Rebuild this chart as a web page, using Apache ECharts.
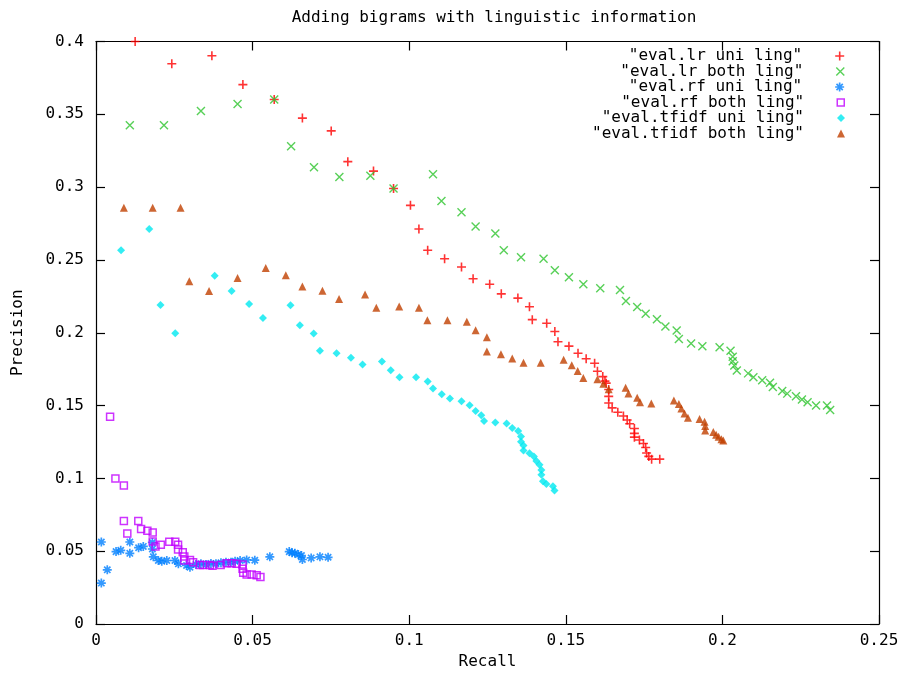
<!DOCTYPE html>
<html>
<head>
<meta charset="utf-8">
<script src="https://cdn.jsdelivr.net/npm/echarts@6/dist/echarts.min.js"></script>
<style>html,body{margin:0;padding:0;background:#fff}#c{width:909px;height:675px}</style>
</head>
<body>
<div id="c"></div>
<script>
var titleText = 'Adding bigrams with linguistic information';
var xName = 'Recall';
var yName = 'Precision';
var xTickLabels = ['0', '0.05', '0.1', '0.15', '0.2', '0.25'];
var yTickLabels = ['0', '0.05', '0.1', '0.15', '0.2', '0.25', '0.3', '0.35', '0.4'];
var seriesNames = ['"eval.lr uni ling"', '"eval.lr both ling"', '"eval.rf uni ling"', '"eval.rf both ling"', '"eval.tfidf uni ling"', '"eval.tfidf both ling"'];

var lrUni = [
[0.0125,0.400],[0.0242,0.3847],[0.0370,0.3902],[0.0469,0.3704],[0.0569,0.3602],[0.0659,0.3474],
[0.0751,0.3386],[0.0804,0.3175],[0.0886,0.3110],[0.0950,0.2991],[0.1004,0.2875],[0.1031,0.2712],
[0.1059,0.2567],[0.1113,0.2508],[0.1167,0.2451],[0.1204,0.2371],[0.1257,0.2333],[0.1294,0.2267],
[0.1347,0.2238],[0.1384,0.2179],[0.1393,0.2090],[0.1439,0.2065],[0.1465,0.2009],[0.1475,0.1938],
[0.1510,0.1908],[0.1539,0.1859],[0.1565,0.1821],[0.1592,0.1791],[0.1601,0.1736],[0.1618,0.1699],
[0.1625,0.1668],[0.1629,0.1654],[0.1637,0.1610],[0.1637,0.1563],[0.1637,0.1518],[0.1648,0.1484],
[0.1666,0.1454],[0.1684,0.1428],[0.1696,0.1401],[0.1704,0.1375],[0.1719,0.1343],[0.1719,0.1309],
[0.1719,0.1283],[0.1735,0.1264],[0.1748,0.1239],[0.1755,0.1212],[0.1758,0.1174],[0.1765,0.1151],
[0.1774,0.1132],[0.1800,0.1132]
];
var lrBoth = [
[0.0108,0.3425],[0.0217,0.3425],[0.0335,0.3522],[0.0452,0.3570],[0.0569,0.3602],[0.0623,0.3280],
[0.0696,0.3137],[0.0777,0.3069],[0.0876,0.3078],[0.0950,0.2991],[0.1076,0.3088],[0.1103,0.2905],
[0.1167,0.2828],[0.1212,0.2730],[0.1275,0.2681],[0.1302,0.2567],[0.1357,0.2519],[0.1429,0.2508],
[0.1465,0.2429],[0.1510,0.2381],[0.1556,0.2333],[0.1610,0.2305],[0.1673,0.2294],[0.1692,0.2218],
[0.1728,0.2177],[0.1755,0.2131],[0.1791,0.2092],[0.1818,0.2043],[0.1854,0.2015],[0.1861,0.1957],
[0.1900,0.1927],[0.1936,0.1908],[0.1991,0.1900],[0.2026,0.1877],[0.2033,0.1836],[0.2033,0.1804],
[0.2038,0.1775],[0.2046,0.1741],[0.2082,0.1721],[0.2099,0.1695],[0.2127,0.1673],[0.2152,0.1657],
[0.2161,0.1627],[0.2191,0.1600],[0.2207,0.1582],[0.2235,0.1564],[0.2254,0.1541],[0.2272,0.1523],
[0.2299,0.1500],[0.2334,0.1500],[0.2344,0.1469]
];
var rfUni = [
[0.0017,0.0563],[0.0036,0.0372],[0.0017,0.0281],[0.0064,0.0497],[0.0079,0.0506],[0.0108,0.0563],
[0.0108,0.0485],[0.0136,0.0524],[0.0151,0.0533],[0.0180,0.0560],[0.0180,0.0515],[0.0183,0.0461],
[0.0199,0.0436],[0.0210,0.0431],[0.0226,0.0436],[0.0252,0.0436],[0.0263,0.0413],[0.0289,0.0402],
[0.0300,0.0390],[0.0319,0.0409],[0.0335,0.0413],[0.0351,0.0409],[0.0367,0.0416],[0.0383,0.0413],
[0.0399,0.0420],[0.0415,0.0424],[0.0431,0.0424],[0.0444,0.0431],[0.0460,0.0436],[0.0481,0.0440],
[0.0507,0.0438],[0.0555,0.0461],[0.0617,0.0497],[0.0626,0.0490],[0.0635,0.0485],[0.0646,0.0478],
[0.0656,0.0470],[0.0659,0.0443],[0.0687,0.0454],[0.0715,0.0461],[0.0741,0.0458]
];
var rfBoth = [
[0.0045,0.1423],[0.0062,0.0999],[0.0089,0.0951],[0.0089,0.0708],[0.0135,0.0708],[0.0100,0.0622],
[0.0144,0.0652],[0.0164,0.0640],[0.0181,0.0628],[0.0181,0.0567],[0.0190,0.0533],[0.0207,0.0545],
[0.0234,0.0565],[0.0253,0.0565],[0.0262,0.0545],[0.0262,0.0511],[0.0277,0.0492],[0.0282,0.0463],
[0.0282,0.0436],[0.0300,0.0440],[0.0310,0.0424],[0.0332,0.0406],[0.0342,0.0406],[0.0364,0.0406],
[0.0372,0.0400],[0.0398,0.0406],[0.0417,0.0417],[0.0433,0.0417],[0.0449,0.0413],[0.0468,0.0409],
[0.0468,0.0379],[0.0470,0.0352],[0.0481,0.0340],[0.0497,0.0340],[0.0513,0.0334],[0.0525,0.0322]
];
var tfidfUni = [
[0.0080,0.2567],[0.0170,0.2712],[0.0206,0.2190],[0.0253,0.1997],[0.0379,0.2392],[0.0433,0.2286],
[0.0489,0.2198],[0.0533,0.2102],[0.0621,0.2188],[0.0651,0.2051],[0.0695,0.1995],[0.0715,0.1877],
[0.0768,0.1859],[0.0814,0.1829],[0.0851,0.1782],[0.0913,0.1802],[0.0941,0.1743],[0.0969,0.1695],
[0.1022,0.1695],[0.1059,0.1666],[0.1076,0.1617],[0.1104,0.1578],[0.1130,0.1549],[0.1167,0.1530],
[0.1193,0.1503],[0.1212,0.1462],[0.1230,0.1433],[0.1239,0.1394],[0.1275,0.1384],[0.1311,0.1377],
[0.1329,0.1346],[0.1348,0.1326],[0.1357,0.1287],[0.1357,0.1251],[0.1365,0.1226],[0.1365,0.1192],
[0.1384,0.1173],[0.1398,0.1151],[0.1406,0.1120],[0.1416,0.1093],[0.1422,0.1057],[0.1422,0.1025],
[0.1427,0.0980],[0.1438,0.0962],[0.1459,0.0946],[0.1464,0.0917]
];
var tfidfBoth = [
[0.0089,0.2858],[0.0181,0.2858],[0.0270,0.2858],[0.0298,0.2354],[0.0361,0.2286],[0.0452,0.2376],
[0.0542,0.2444],[0.0606,0.2395],[0.0659,0.2317],[0.0723,0.2288],[0.0776,0.2231],[0.0859,0.2263],
[0.0895,0.2172],[0.0968,0.2181],[0.1031,0.2171],[0.1058,0.2085],[0.1122,0.2085],[0.1184,0.2075],
[0.1212,0.2017],[0.1248,0.1969],[0.1248,0.1872],[0.1293,0.1853],[0.1329,0.1823],[0.1365,0.1794],
[0.1420,0.1794],[0.1493,0.1814],[0.1519,0.1776],[0.1538,0.1738],[0.1556,0.1690],[0.1601,0.1680],
[0.1620,0.1650],[0.1637,0.1612],[0.1691,0.1622],[0.1700,0.1582],[0.1728,0.1554],[0.1737,0.1522],
[0.1773,0.1514],[0.1845,0.1534],[0.1861,0.1511],[0.1869,0.1480],[0.1879,0.1445],[0.1890,0.1416],
[0.1927,0.1407],[0.1943,0.1389],[0.1945,0.1360],[0.1945,0.1328],[0.1971,0.1319],[0.1980,0.1300],
[0.1988,0.1285],[0.1997,0.1268],[0.2003,0.1260]
];

var FONT = '"DejaVu Sans Mono", monospace';
var FS = 16;
var SYM_PLUS = 'path://M0,5L10,5M5,0L5,10';
var SYM_X = 'path://M0,0L10,10M10,0L0,10';
var SYM_STAR = 'path://M0,5L10,5M5,0L5,10M1.5,1.5L8.5,8.5M8.5,1.5L1.5,8.5';

var styles = [
  {sym: SYM_PLUS, size: 9, item: {color: 'transparent', borderColor: '#ff0000', borderWidth: 1.6}},
  {sym: SYM_X, size: 8, item: {color: 'transparent', borderColor: '#2ec42e', borderWidth: 1.4}},
  {sym: SYM_STAR, size: 9, item: {color: 'transparent', borderColor: '#0080ff', borderWidth: 1.7}},
  {sym: 'rect', size: 7, item: {color: 'transparent', borderColor: '#c000ff', borderWidth: 1.5}},
  {sym: 'diamond', size: 8, item: {color: '#00e8f0'}},
  {sym: 'triangle', size: 8, item: {color: '#c04000'}}
];
var datasets = [lrUni, lrBoth, rfUni, rfBoth, tfidfUni, tfidfBoth];

var series = datasets.map(function (d, i) {
  return {
    name: seriesNames[i], type: 'scatter', data: d,
    symbol: styles[i].sym, symbolSize: styles[i].size,
    itemStyle: styles[i].item, clip: false,
    emphasis: {disabled: true}
  };
});

var legendRowTops = [48, 63.5, 79, 94.5, 110, 125.5];
var legends = seriesNames.map(function (n, i) {
  return {
    data: [{name: n, icon: styles[i].sym, itemStyle: styles[i].item}],
    right: 64, top: legendRowTops[i], align: 'right', orient: 'vertical',
    itemWidth: styles[i].size, itemHeight: styles[i].size, itemGap: 0, padding: 0,
    symbolKeepAspect: true,
    selectedMode: false,
    textStyle: {fontFamily: FONT, fontSize: FS, color: '#000', padding: [0, 28, 0, 0]}
  };
});

function tickFmt(arr) {
  return function (v) { var k = Math.round(v / 0.05); return arr[k] !== undefined ? arr[k] : ''; };
}

function axLine() { return {show: true, onZero: false, lineStyle: {color: '#000', width: 1.2}}; }
function axTick() { return {show: true, inside: true, length: 9, lineStyle: {color: '#000', width: 1.2}}; }

var option = {
  animation: false,
  backgroundColor: '#fff',
  title: {
    text: titleText, left: 489, top: 5, textAlign: 'center',
    textStyle: {fontFamily: FONT, fontSize: FS, fontWeight: 'normal', color: '#000'}
  },
  legend: legends,
  grid: {left: 96, right: 30, top: 41.5, bottom: 46, containLabel: false},
  xAxis: [
    {type: 'value', min: 0, max: 0.25, interval: 0.05, position: 'bottom',
     name: xName, nameLocation: 'middle', nameGap: 30,
     nameTextStyle: {fontFamily: FONT, fontSize: FS, color: '#000'},
     axisLine: axLine(), axisTick: axTick(), splitLine: {show: false},
     axisLabel: {formatter: tickFmt(xTickLabels), fontFamily: FONT, fontSize: FS, color: '#000', margin: 9}},
    {type: 'value', min: 0, max: 0.25, interval: 0.05, position: 'top',
     axisLine: axLine(), axisTick: axTick(), splitLine: {show: false}, axisLabel: {show: false}}
  ],
  yAxis: [
    {type: 'value', min: 0, max: 0.4, interval: 0.05, position: 'left',
     name: yName, nameLocation: 'middle', nameGap: 70, nameRotate: 90,
     nameTextStyle: {fontFamily: FONT, fontSize: FS, color: '#000'},
     axisLine: axLine(), axisTick: axTick(), splitLine: {show: false},
     axisLabel: {formatter: tickFmt(yTickLabels), fontFamily: FONT, fontSize: FS, color: '#000', margin: 12}},
    {type: 'value', min: 0, max: 0.4, interval: 0.05, position: 'right',
     axisLine: axLine(), axisTick: axTick(), splitLine: {show: false}, axisLabel: {show: false}}
  ],
  series: series
};

var chart = echarts.init(document.getElementById('c'), null, {renderer: 'canvas'});
chart.setOption(option);
</script>
</body>
</html>
